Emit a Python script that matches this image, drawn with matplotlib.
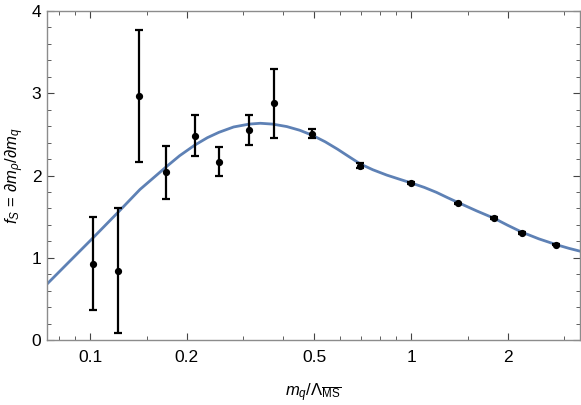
# < imports >----------------------------------------------------------------------------------

import numpy as np
import matplotlib
matplotlib.use("Agg")
import matplotlib.pyplot as plt
from matplotlib.ticker import FixedLocator, NullFormatter, MultipleLocator

# < data >-------------------------------------------------------------------------------------

# lattice points (m_q / Lambda_MSbar, f_S) with error bar ends
MQ = [0.102, 0.122, 0.142, 0.172, 0.212, 0.252, 0.313, 0.374, 0.493,
      0.695, 1.0, 1.404, 1.814, 2.218, 2.83]
FS = [0.93, 0.84, 2.97, 2.04, 2.48, 2.17, 2.55, 2.88, 2.51,
      2.12, 1.91, 1.66, 1.48, 1.30, 1.16]
FS_LO = [0.365, 0.08, 2.17, 1.71, 2.24, 1.99, 2.37, 2.46, 2.45,
         2.09, 1.90, 1.65, 1.47, 1.29, 1.15]
FS_HI = [1.50, 1.61, 3.77, 2.36, 2.74, 2.35, 2.73, 3.29, 2.57,
         2.15, 1.92, 1.67, 1.49, 1.31, 1.17]

# fit curve
CURVE_X = [0.0734, 0.085, 0.102, 0.122, 0.143, 0.172, 0.19, 0.212, 0.232,
           0.252, 0.28, 0.313, 0.339, 0.37, 0.41, 0.45, 0.492, 0.54,
           0.59, 0.64, 0.695, 0.76, 0.84, 0.92, 1.0, 1.1, 1.2, 1.3,
           1.404, 1.6, 1.814, 2.0, 2.218, 2.5, 2.83, 3.1, 3.36]
CURVE_Y = [0.68, 0.93, 1.24, 1.55, 1.83, 2.10, 2.24, 2.37, 2.46,
           2.525, 2.59, 2.625, 2.635, 2.625, 2.595, 2.55, 2.49, 2.41,
           2.32, 2.23, 2.14, 2.07, 2.005, 1.955, 1.91, 1.855, 1.795, 1.73,
           1.67, 1.57, 1.48, 1.395, 1.31, 1.23, 1.16, 1.115, 1.08]

X_MAJOR = [0.1, 0.2, 0.5, 1, 2]
X_MAJOR_LABELS = ["0.1", "0.2", "0.5", "1", "2"]
X_MINOR = [0.08, 0.09, 0.15, 0.3, 0.4, 0.6, 0.7, 0.8, 0.9, 1.5, 3]

# < style >------------------------------------------------------------------------------------

plt.rcParams["font.family"] = ["Liberation Sans", "DejaVu Sans"]
plt.rcParams["mathtext.fontset"] = "custom"
plt.rcParams["mathtext.rm"] = "Liberation Sans"
plt.rcParams["mathtext.it"] = "Liberation Sans:italic"
plt.rcParams["mathtext.bf"] = "Liberation Sans:bold"

FRAME = "#8c8c8c"
BLUE = "#5e81b5"

# ---------------------------------------------------------------------------------------------
def main():
    fig = plt.figure(figsize=(5.81, 4.05), dpi=100)
    ax = fig.add_axes([47 / 581, 65 / 405, 533 / 581, 329 / 405])

    ax.plot(CURVE_X, CURVE_Y, color=BLUE, lw=2.0, zorder=2,
            solid_joinstyle="round")

    fs = np.array(FS)
    yerr = [fs - np.array(FS_LO), np.array(FS_HI) - fs]
    ax.errorbar(MQ, FS, yerr=yerr, fmt="o", color="black", ms=4.2,
                elinewidth=1.6, capsize=3, capthick=1.6, zorder=3)

    ax.set_xscale("log")
    ax.set_xlim(0.0734, 3.36)
    ax.set_ylim(0, 4)

    ax.xaxis.set_major_locator(FixedLocator(X_MAJOR))
    ax.set_xticklabels(X_MAJOR_LABELS)
    ax.xaxis.set_minor_locator(FixedLocator(X_MINOR))
    ax.xaxis.set_minor_formatter(NullFormatter())
    ax.yaxis.set_major_locator(MultipleLocator(1))
    ax.yaxis.set_minor_locator(MultipleLocator(0.2))

    for sp in ax.spines.values():
        sp.set_color(FRAME)
        sp.set_linewidth(1.0)

    ax.tick_params(which="both", direction="in", top=True, right=True,
                   color="#444444", labelsize=12.5)
    ax.tick_params(which="major", length=5, width=0.8)
    ax.tick_params(which="minor", length=3, width=0.6)
    ax.tick_params(axis="x", which="major", pad=7)
    ax.tick_params(axis="y", which="major", pad=4)

    ax.set_xlabel(r"$m_q/\Lambda_{\overline{\mathrm{MS}}}$", fontsize=12, labelpad=12)
    ax.set_ylabel(r"$f_S\,=\,\partial m_\rho/\partial m_q$", fontsize=12, labelpad=4)

    fig.savefig("out.png", dpi=100)

if __name__ == "__main__":
    main()
